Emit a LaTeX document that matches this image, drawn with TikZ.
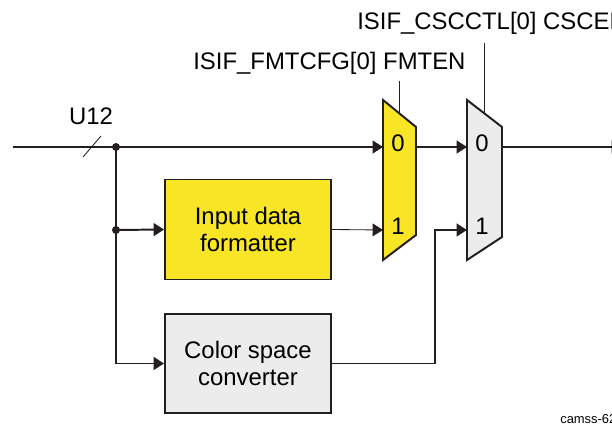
\documentclass[tikz,border=0pt]{standalone}
\usepackage{fontspec}
\setmainfont{Liberation Sans}
\usetikzlibrary{arrows.meta}

\begin{document}
\begin{tikzpicture}[
    x=0.25mm, y=-0.25mm,
    line join=miter,
    every node/.style={font=\fontsize{17}{19}\selectfont, inner sep=0pt},
    sigline/.style={draw=linecol, line width=1.4pt},
    thinline/.style={draw=linecol, line width=0.6pt},
    tipfill/.style={-{Triangle[length=2.6mm,width=3.2mm]}},
    sigarrow/.style={sigline, tipfill},
    thinarrow/.style={thinline, tipfill},
    blockbox/.style={draw=linecol, line width=1.4pt, minimum width=41.5mm,
        minimum height=25mm, align=center},
    muxshape/.style={draw=linecol, line width=1.4pt}
]

\definecolor{linecol}{RGB}{35,31,32}
\definecolor{fmtyellow}{RGB}{247,229,38}
\definecolor{cscgray}{RGB}{236,236,236}

\useasboundingbox (0,0) rectangle (612,426);
\clip (0,0) rectangle (612,426);

% -----------------------------
% Register labels
% -----------------------------
\node[anchor=base west] (csclbl) at (357,30) {ISIF\_CSCCTL[0] CSCEN};
\node[anchor=base west] (fmtlbl) at (193,70) {ISIF\_FMTCFG[0] FMTEN};

\coordinate (cscsel) at (484,43);
\coordinate (fmtsel) at (399,81);

% -----------------------------
% Blocks
% -----------------------------
\node[blockbox, fill=fmtyellow] (fmtbox) at (248,229.5)
{Input data\\formatter};

\node[blockbox, fill=cscgray, minimum height=24.75mm] (cscbox) at (248,363.5)
{Color space\\converter};

% -----------------------------
% Multiplexers
% -----------------------------
\draw[muxshape, fill=fmtyellow]
(383,100) -- (416,127) -- (416,235) -- (383,260) -- cycle;

\coordinate (fmtmux-in0) at (383,147);
\coordinate (fmtmux-in1) at (383,230);
\coordinate (fmtmux-out) at (416,147);
\coordinate (fmtmux-top) at (399,113);

\node[anchor=base] (fmtmux-lbl0) at (398,152) {0};
\node[anchor=base] (fmtmux-lbl1) at (398,235) {1};

\draw[muxshape, fill=cscgray]
(467,100) -- (502,127) -- (502,237) -- (467,260) -- cycle;

\coordinate (cscmux-in0) at (467,147);
\coordinate (cscmux-in1) at (467,230);
\coordinate (cscmux-out) at (502,147);
\coordinate (cscmux-top) at (484,113);

\node[anchor=base] (cscmux-lbl0) at (482,152) {0};
\node[anchor=base] (cscmux-lbl1) at (482,235) {1};

\draw[thinline] (fmtsel) -- (fmtmux-top);
\draw[thinline] (cscsel) -- (cscmux-top);

% -----------------------------
% Input bus and branches
% -----------------------------
\coordinate (busin) at (13,147);
\coordinate (jtop) at (116,147);
\coordinate (jmid) at (116,230);
\coordinate (jbot) at (116,363.5);
\coordinate (cscturn) at (435,230);
\coordinate (busout) at (622,147);

\node[anchor=base] (buslbl) at (91,125) {U12};
\draw[thinline] (83,157) -- (101,136);

\draw[sigline] (busin) -- (jtop);
\draw[sigarrow] (jtop) -- (fmtmux-in0);
\draw[sigline] (jtop) -- (jbot);
\draw[sigarrow] (jmid) -- (fmtbox.west);
\draw[sigarrow] (jbot) -- (cscbox.west);

\fill[linecol] (jtop) circle (1mm);
\fill[linecol] (jmid) circle (1mm);

\draw[thinarrow] (fmtbox.east) -- (fmtmux-in1);
\draw[sigarrow] (fmtmux-out) -- (cscmux-in0);
\draw[sigarrow] (cscbox.east) -| (cscturn) -- (cscmux-in1);
\draw[sigarrow] (cscmux-out) -- (busout);

% -----------------------------
% Figure tag
% -----------------------------
\node[anchor=base west, font=\fontsize{9.2}{11}\selectfont] (figtag)
at (560,423) {camss-62};

\end{tikzpicture}
\end{document}
